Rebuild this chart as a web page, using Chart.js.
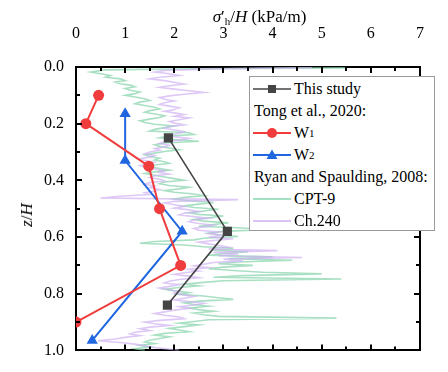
<!DOCTYPE html>
<html>
<head>
<meta charset="utf-8">
<script src="https://cdn.jsdelivr.net/npm/chart.js@4.4.1/dist/chart.umd.min.js"></script>
<style>
  html, body { margin: 0; padding: 0; background: #fff; }
  #wrap { position: relative; width: 448px; height: 372px; font-family: "Liberation Serif", "Times New Roman", serif; }
  #c { position: absolute; left: 0; top: 0; }
  #xtitle { position: absolute; left: 0; width: 519px; top: 7px; text-align: center; font-size: 17px; color: #000; }
  #xtitle sub { font-size: 11px; vertical-align: -3px; }
  #ytitle { position: absolute; left: 27px; top: 215px; font-size: 17px; transform: translate(-50%, -50%) rotate(-90deg); white-space: nowrap; }
  #legend { position: absolute; left: 249px; top: 76px; width: 186px; height: 155px; border: 1px solid #9a9a9a; background: #fff; font-size: 16px; padding-top: 1px; box-sizing: border-box; }
  .row { height: 22px; line-height: 22px; white-space: nowrap; display: flex; align-items: center; padding-left: 3px; }
  .row.txt { padding-left: 4px; }
  .row svg { margin-right: 3px; flex: none; }
  .row sub { font-size: 11px; vertical-align: -4px; }
</style>
</head>
<body>
<div id="wrap">
  <canvas id="c" width="448" height="372"></canvas>
  <div id="xtitle"><i>σ</i>′<sub>h</sub>/<i>H</i> (kPa/m)</div>
  <div id="ytitle"><i>z</i>/<i>H</i></div>
  <div id="legend">
    <div class="row"><svg width="38" height="12"><line x1="0" y1="6" x2="38" y2="6" stroke="#444" stroke-width="1.6"/><rect x="15" y="2" width="8" height="8" fill="#444"/></svg>This study</div>
    <div class="row txt">Tong et al., 2020:</div>
    <div class="row"><svg width="38" height="12"><line x1="0" y1="6" x2="38" y2="6" stroke="#f03c3c" stroke-width="2"/><circle cx="19" cy="6" r="5" fill="#f03c3c"/></svg>W<sub>1</sub></div>
    <div class="row"><svg width="38" height="12"><line x1="0" y1="6" x2="38" y2="6" stroke="#1f66e0" stroke-width="2"/><polygon points="19,0.5 24.5,10 13.5,10" fill="#1f66e0"/></svg>W<sub>2</sub></div>
    <div class="row txt">Ryan and Spaulding, 2008:</div>
    <div class="row"><svg width="38" height="12"><line x1="0" y1="6" x2="38" y2="6" stroke="#a6e0c2" stroke-width="2"/></svg>CPT-9</div>
    <div class="row"><svg width="38" height="12"><line x1="0" y1="6" x2="38" y2="6" stroke="#dcc2f5" stroke-width="2"/></svg>Ch.240</div>
  </div>
</div>
<script>
// valeurs : x = sigma'h/H (kPa/m), z = z/H
const studyX = [1.88, 3.08, 1.86];
const studyZ = [0.25, 0.58, 0.84];

const w1X = [0.46, 0.2, 1.48, 1.7, 2.13, 0.0];
const w1Z = [0.1, 0.2, 0.35, 0.5, 0.7, 0.9];

const w2X = [1.0, 1.0, 2.16, 0.33];
const w2Z = [0.165, 0.33, 0.58, 0.965];

// profil CPT-9
const cptZ = [0.003, 0.006, 0.010, 0.018, 0.024, 0.030, 0.036, 0.042, 0.048, 0.053,
  0.059, 0.064, 0.070, 0.076, 0.082, 0.088, 0.094, 0.100, 0.106, 0.112,
  0.118, 0.124, 0.130, 0.136, 0.142, 0.148, 0.154, 0.160, 0.166, 0.172,
  0.178, 0.184, 0.190, 0.196, 0.202, 0.208, 0.214, 0.220, 0.226, 0.232,
  0.238, 0.244, 0.250, 0.256, 0.262, 0.268, 0.274, 0.280, 0.286, 0.292,
  0.298, 0.304, 0.310, 0.316, 0.322, 0.328, 0.334, 0.340, 0.346, 0.352,
  0.358, 0.364, 0.370, 0.376, 0.382, 0.388, 0.394, 0.400, 0.406, 0.412,
  0.418, 0.424, 0.430, 0.436, 0.442, 0.448, 0.454, 0.460, 0.466, 0.472,
  0.478, 0.484, 0.490, 0.496, 0.502, 0.508, 0.514, 0.520, 0.526, 0.532,
  0.538, 0.544, 0.550, 0.556, 0.562, 0.568, 0.574, 0.580, 0.586, 0.592,
  0.598, 0.604, 0.610, 0.616, 0.622, 0.628, 0.634, 0.640, 0.646, 0.652,
  0.658, 0.664, 0.670, 0.676, 0.682, 0.688, 0.694, 0.700, 0.706, 0.712,
  0.718, 0.724, 0.730, 0.736, 0.742, 0.748, 0.754, 0.760, 0.766, 0.772,
  0.778, 0.784, 0.790, 0.796, 0.802, 0.808, 0.814, 0.820, 0.826, 0.832,
  0.838, 0.844, 0.850, 0.856, 0.862, 0.868, 0.874, 0.880, 0.886, 0.892,
  0.898, 0.904, 0.910, 0.916, 0.922, 0.928, 0.934, 0.940, 0.946, 0.952,
  0.958, 0.964, 0.970, 0.976, 0.982, 0.988, 0.994, 1.000];
const cptX = [5.5, 2.5, 0.6, 0.3, 0.5, 0.7, 0.6, 0.9, 1.0, 0.8,
  0.9, 1.1, 1.2, 1.0, 1.1, 1.3, 1.2, 1.0, 1.2, 1.4,
  1.5, 1.3, 1.2, 1.4, 1.6, 1.7, 1.5, 1.4, 1.6, 1.8,
  1.7, 1.5, 1.3, 1.4, 1.6, 2.0, 1.8, 1.6, 1.5, 2.3,
  2.4, 1.9, 1.7, 2.0, 2.5, 1.8, 1.6, 1.7, 1.9, 2.1,
  1.8, 1.6, 1.4, 1.5, 1.7, 1.6, 1.8, 1.9, 1.6, 1.5,
  1.7, 1.9, 1.6, 1.4, 1.6, 1.8, 2.0, 2.2, 1.8, 1.7,
  1.9, 2.3, 2.1, 1.8, 2.0, 2.4, 2.6, 2.2, 2.0, 2.3,
  2.8, 2.5, 2.2, 2.4, 2.9, 2.6, 2.3, 2.5, 3.0, 2.7,
  2.4, 2.6, 3.1, 2.8, 2.5, 3.4, 3.8, 3.0, 2.7, 2.9,
  3.3, 2.6, 2.4, 1.6, 1.3, 2.2, 2.6, 3.2, 2.8, 3.5,
  3.0, 2.7, 4.0, 3.1, 4.4, 3.3, 2.9, 3.6, 3.0, 2.7,
  3.2, 3.8, 5.0, 3.4, 2.8, 5.4, 3.0, 2.6, 2.2, 2.5,
  2.1, 1.8, 2.0, 2.3, 2.1, 2.6, 2.9, 3.2, 2.5, 2.2,
  2.4, 2.7, 2.3, 2.5, 2.8, 2.4, 2.6, 2.9, 5.3, 2.7,
  2.4, 2.1, 2.5, 2.2, 1.9, 2.1, 2.3, 1.8, 1.6, 1.9,
  1.7, 1.5, 1.4, 1.6, 1.3, 1.5, 1.2, 1.4];

// profil Ch.240
const chZ = [0.002, 0.006, 0.012, 0.018, 0.024, 0.030, 0.036, 0.042, 0.048, 0.054,
  0.060, 0.066, 0.072, 0.078, 0.084, 0.090, 0.096, 0.102, 0.108, 0.114,
  0.120, 0.126, 0.132, 0.138, 0.144, 0.150, 0.156, 0.162, 0.168, 0.174,
  0.180, 0.186, 0.192, 0.198, 0.204, 0.210, 0.216, 0.222, 0.228, 0.234,
  0.240, 0.246, 0.252, 0.258, 0.264, 0.270, 0.276, 0.282, 0.288, 0.294,
  0.300, 0.306, 0.312, 0.318, 0.324, 0.330, 0.336, 0.342, 0.348, 0.354,
  0.360, 0.366, 0.372, 0.378, 0.384, 0.390, 0.396, 0.402, 0.408, 0.414,
  0.420, 0.426, 0.432, 0.438, 0.444, 0.450, 0.456, 0.462, 0.468, 0.474,
  0.480, 0.486, 0.492, 0.498, 0.504, 0.510, 0.516, 0.522, 0.528, 0.534,
  0.540, 0.546, 0.552, 0.558, 0.564, 0.570, 0.576, 0.582, 0.588, 0.594,
  0.600, 0.606, 0.612, 0.618, 0.624, 0.630, 0.636, 0.642, 0.648, 0.654,
  0.660, 0.666, 0.672, 0.678, 0.684, 0.690, 0.696, 0.702, 0.708, 0.714,
  0.720, 0.726, 0.732, 0.738, 0.744, 0.750, 0.756, 0.762, 0.768, 0.774,
  0.780, 0.786, 0.792, 0.798, 0.804, 0.810, 0.816, 0.822, 0.828, 0.834,
  0.840, 0.846, 0.852, 0.858, 0.864, 0.870, 0.876, 0.882, 0.888, 0.894,
  0.900, 0.906, 0.912, 0.918, 0.924, 0.930, 0.936, 0.942, 0.948, 0.954,
  0.960, 0.966, 0.972, 0.978, 0.984, 0.990, 0.996, 1.000];
const chX = [4.8, 3.0, 1.8, 1.6, 1.9, 2.1, 1.7, 1.5, 1.8, 2.0,
  2.2, 1.9, 1.7, 2.0, 2.3, 2.6, 2.2, 1.9, 1.7, 1.8,
  2.0, 1.8, 1.7, 1.9, 2.1, 2.0, 1.8, 2.0, 2.2, 2.0,
  2.3, 2.1, 1.9, 2.0, 2.2, 1.9, 1.8, 2.0, 2.2, 2.1,
  1.9, 2.0, 2.3, 2.1, 1.8, 1.7, 1.9, 1.8, 1.6, 1.7,
  1.5, 1.4, 1.6, 1.5, 1.3, 1.4, 1.6, 1.5, 1.3, 1.4,
  1.6, 1.8, 1.7, 1.9, 1.6, 1.5, 1.7, 1.8, 1.5, 1.4,
  1.6, 1.5, 1.7, 1.6, 1.4, 1.5, 0.9, 0.5, 3.3, 2.0,
  1.8, 2.0, 2.2, 2.0, 2.3, 2.5, 2.2, 2.1, 2.4, 2.7,
  2.4, 2.3, 2.5, 2.8, 2.6, 2.4, 2.5, 2.9, 2.7, 3.0,
  2.7, 3.2, 2.8, 2.5, 2.7, 2.9, 3.1, 2.7, 4.1, 2.8,
  3.3, 2.9, 4.6, 3.0, 3.4, 2.8, 2.6, 2.4, 2.7, 2.3,
  2.5, 2.2, 2.0, 2.3, 2.5, 2.1, 1.9, 1.8, 2.1, 1.9,
  1.7, 1.9, 2.1, 2.0, 2.2, 2.4, 2.2, 2.0, 2.3, 2.6,
  2.4, 2.1, 2.3, 2.0, 1.8, 1.6, 1.8, 2.1, 2.2, 1.7,
  1.4, 1.6, 1.9, 1.5, 1.3, 1.5, 1.2, 1.1, 1.3, 1.0,
  0.8, 0.45, 0.9, 1.2, 1.4, 1.6, 1.9, 2.1];

const xTicks = [0, 1, 2, 3, 4, 5, 6, 7];
const yTicks = [0.0, 0.2, 0.4, 0.6, 0.8, 1.0];

function pts(xs, zs) {
  return xs.map((x, i) => ({ x: x, y: zs[i] }));
}

const tickFont = { family: "'Liberation Serif', 'Times New Roman', serif", size: 16 };

// graduations tournées vers l'intérieur
const insideTicks = {
  id: 'insideTicks',
  afterDatasetsDraw(chart) {
    const ctx = chart.ctx;
    const a = chart.chartArea;
    const sx = chart.scales.x, sy = chart.scales.y;
    ctx.save();
    ctx.strokeStyle = '#000';
    ctx.lineWidth = 2;
    ctx.beginPath();
    for (let v = 0; v <= 7.001; v += 0.5) {
      const px = Math.round(sx.getPixelForValue(v));
      const len = Math.abs(v - Math.round(v)) < 0.01 ? 6 : 4;
      ctx.moveTo(px, a.top); ctx.lineTo(px, a.top + len);
      ctx.moveTo(px, a.bottom); ctx.lineTo(px, a.bottom - len);
    }
    for (let k = 0; k <= 10; k++) {
      const py = Math.round(sy.getPixelForValue(k / 10));
      const len = k % 2 === 0 ? 6 : 4;
      ctx.moveTo(a.left, py); ctx.lineTo(a.left + len, py);
      ctx.moveTo(a.right, py); ctx.lineTo(a.right - len, py);
    }
    ctx.stroke();
    ctx.restore();
  }
};

const border = { display: true, color: '#000', width: 2 };

new Chart(document.getElementById('c'), {
  type: 'scatter',
  data: {
    datasets: [
      { label: 'CPT-9', data: pts(cptX, cptZ), order: 5, showLine: true, borderColor: 'rgba(140,214,176,0.75)', borderWidth: 1.6, pointRadius: 0, clip: 0 },
      { label: 'Ch.240', data: pts(chX, chZ), order: 4, showLine: true, borderColor: 'rgba(206,176,242,0.7)', borderWidth: 1.6, pointRadius: 0, clip: 0 },
      { label: 'This study', data: pts(studyX, studyZ), order: 1, showLine: true, borderColor: '#444', borderWidth: 1.6, pointStyle: 'rect', pointRadius: 6.5, backgroundColor: '#444', pointBorderWidth: 0, clip: 0 },
      { label: 'W1', data: pts(w1X, w1Z), order: 2, showLine: true, borderColor: '#f03c3c', borderWidth: 2, pointStyle: 'circle', pointRadius: 5.5, backgroundColor: '#f03c3c', pointBorderWidth: 0, clip: 0 },
      { label: 'W2', data: pts(w2X, w2Z), order: 3, showLine: true, borderColor: '#1f66e0', borderWidth: 2, pointStyle: 'triangle', pointRadius: 6.5, backgroundColor: '#1f66e0', pointBorderWidth: 0, clip: 0 }
    ]
  },
  options: {
    responsive: false,
    animation: false,
    layout: { padding: 0 },
    plugins: { legend: { display: false }, tooltip: { enabled: false } },
    scales: {
      x: {
        type: 'linear', position: 'top', min: 0, max: 7,
        afterBuildTicks: s => { s.ticks = xTicks.map(v => ({ value: v })); },
        afterFit: s => { s.height = 67; },
        ticks: { color: '#000', font: tickFont, padding: 24, maxRotation: 0 },
        grid: { display: false, drawTicks: false },
        border: border
      },
      x2: {
        type: 'linear', position: 'bottom', min: 0, max: 7,
        afterFit: s => { s.height = 9; },
        ticks: { display: false },
        grid: { display: false, drawTicks: false },
        border: border
      },
      y: {
        type: 'linear', position: 'left', min: 0, max: 1, reverse: true,
        afterBuildTicks: s => { s.ticks = yTicks.map(v => ({ value: v })); },
        afterFit: s => { s.width = 76; },
        ticks: { color: '#000', font: tickFont, padding: 12, callback: v => v.toFixed(1) },
        grid: { display: false, drawTicks: false },
        border: border
      },
      y2: {
        type: 'linear', position: 'right', min: 0, max: 1, reverse: true,
        afterFit: s => { s.width = 5; },
        ticks: { display: false },
        grid: { display: false, drawTicks: false },
        border: border
      }
    }
  },
  plugins: [insideTicks]
});
</script>
</body>
</html>
